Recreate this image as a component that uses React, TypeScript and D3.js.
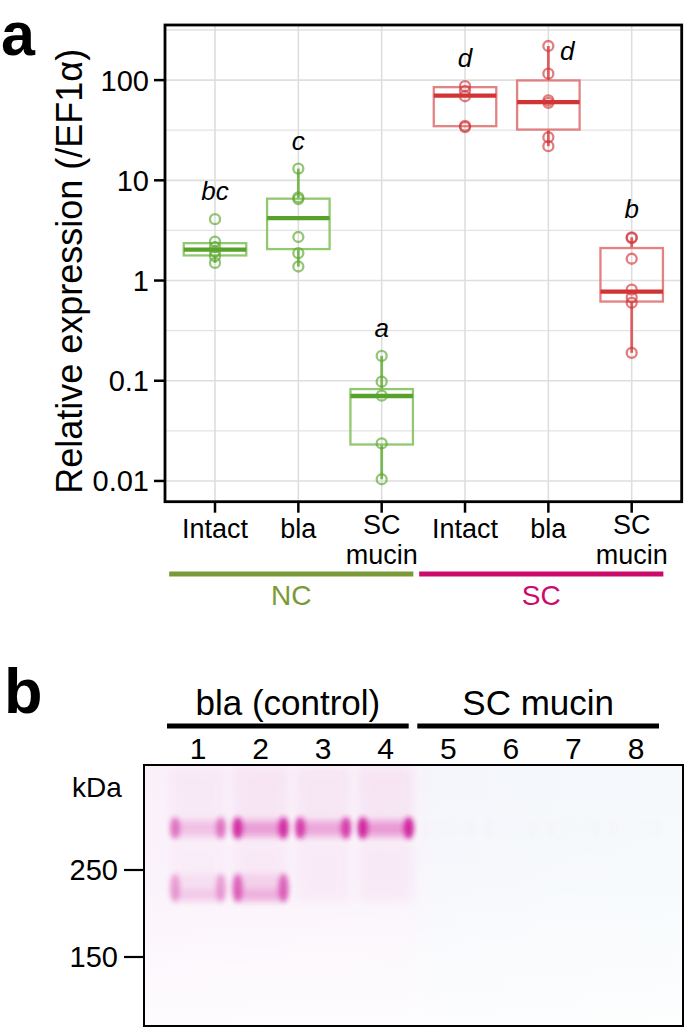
import React from "react";
import * as d3 from "d3";

// ---------- Panel a data ----------
const groupIds = ["NC-Intact", "NC-bla", "NC-SCmucin", "SC-Intact", "SC-bla", "SC-SCmucin"];
const groupLabels = ["Intact", "bla", "SC\nmucin", "Intact", "bla", "SC\nmucin"];
const groupSet = ["NC", "NC", "NC", "SC", "SC", "SC"];
const sigLetters = ["bc", "c", "a", "d", "d", "b"];

const ptsNCIntact = [4.1, 2.45, 2.15, 1.95, 1.75, 1.5];
const ptsNCBla = [13.1, 6.76, 6.5, 2.72, 1.88, 1.38];
const ptsNCMucin = [0.177, 0.098, 0.071, 0.0237, 0.0104];
const ptsSCIntact = [87, 78, 69, 35, 34];
const ptsSCBla = [219, 116, 62.7, 59.4, 26.9, 21.9];
const ptsSCMucin = [2.7, 2.65, 1.65, 0.81, 0.68, 0.6, 0.19];
const groupPoints = [ptsNCIntact, ptsNCBla, ptsNCMucin, ptsSCIntact, ptsSCBla, ptsSCMucin];

const boxQ1 = [1.78, 2.06, 0.0231, 34.7, 32.1, 0.617];
const boxMedian = [2.03, 4.2, 0.0704, 70, 60.3, 0.776];
const boxQ3 = [2.36, 6.56, 0.0826, 85.1, 99.3, 2.11];

const yTickValues = [0.01, 0.1, 1, 10, 100];
const yTickLabels = ["0.01", "0.1", "1", "10", "100"];
const yMinorValues = [10 ** -1.5, 10 ** -0.5, 10 ** 0.5, 10 ** 1.5, 10 ** 2.5];
const yDomain = [10 ** -2.207, 10 ** 2.55];

const setNames = ["NC", "SC"];

// ---------- Panel b data ----------
const lanes = ["1", "2", "3", "4", "5", "6", "7", "8"];
const laneGroupNames = ["bla (control)", "SC mucin"];
const laneGroupMembers = [["1", "2", "3", "4"], ["5", "6", "7", "8"]];
const markerKDa = [250, 150];
const bandKDa = [320, 225];
const bandUpperIntensity = [0.55, 0.95, 0.85, 1.0, 0.01, 0.01, 0.01, 0.01];
const bandLowerIntensity = [0.45, 0.8, 0, 0, 0, 0, 0, 0];

const FONT = "'Liberation Sans', Arial, Helvetica, sans-serif";

const COLORS: Record<string, any> = {
  NC: { pt: "#5aa82e", box: "#86c262", med: "#58a22c", whisk: "#68ae3e", set: "#7a9a38" },
  SC: { pt: "#d2363a", box: "#e07474", med: "#d23436", whisk: "#d9474a", set: "#cc0a6c" },
};

export default function App() {
  // panel a geometry
  const pL = 165, pR = 681.7, pT = 25, pB = 501.7;
  const y = d3.scaleLog().domain(yDomain).range([pB, pT]);
  const x = d3.scalePoint<string>().domain(groupIds).range([pL, pR]).padding(0.6);
  const step = x.step();
  const boxW = step * 0.75;

  const lg = (v: number) => Math.log10(v);

  const boxes = groupIds.map((id, i) => {
    const pts = groupPoints[i];
    const q1 = boxQ1[i], q3 = boxQ3[i];
    const iqr = lg(q3) - lg(q1);
    const hiFence = lg(q3) + 1.5 * iqr;
    const loFence = lg(q1) - 1.5 * iqr;
    const inside = pts.filter((v) => lg(v) <= hiFence && lg(v) >= loFence);
    const wHi = Math.max(q3, d3.max(inside) as number);
    const wLo = Math.min(q1, d3.min(inside) as number);
    return { id, i, pts, q1, q3, med: boxMedian[i], wHi, wLo, c: COLORS[groupSet[i]] };
  });

  // set underline extents
  const setExtent = setNames.map((s) => {
    const ids = groupIds.filter((_, i) => groupSet[i] === s);
    const xs = ids.map((id) => x(id) as number);
    return { s, x0: (d3.min(xs) as number) - 0.55 * step, x1: (d3.max(xs) as number) + 0.38 * step };
  });

  // panel b geometry
  const gL = 144, gR = 683, gT = 765, gB = 1026;
  const lx = d3.scalePoint<string>().domain(lanes).range([198, 636]);
  const ky = d3.scaleLog().domain([150, 250]).range([957, 870]);
  const laneW = 54;

  return (
    <svg
      width={685}
      height={1028}
      viewBox="0 0 685 1028"
      style={{ position: "absolute", left: 0, top: 0, display: "block", background: "#fff" }}
      fontFamily={FONT}
    >
      <defs>
        <filter id="blur3" x="-50%" y="-50%" width="200%" height="200%">
          <feGaussianBlur stdDeviation="3.5" />
        </filter>
        <filter id="blur2" x="-50%" y="-50%" width="200%" height="200%">
          <feGaussianBlur stdDeviation="2.6" />
        </filter>
        <filter id="blur6" x="-50%" y="-50%" width="200%" height="200%">
          <feGaussianBlur stdDeviation="5" />
        </filter>
        <linearGradient id="gelBg" x1="0" x2="1" y1="0" y2="0">
          <stop offset="0" stopColor="#faf0fa" />
          <stop offset="0.48" stopColor="#f9f2fa" />
          <stop offset="0.55" stopColor="#f4f6fb" />
          <stop offset="1" stopColor="#f5f9fc" />
        </linearGradient>
        <linearGradient id="gelFade" x1="0" x2="0" y1="0" y2="1">
          <stop offset="0" stopColor="#ffffff" stopOpacity="0" />
          <stop offset="0.45" stopColor="#ffffff" stopOpacity="0.2" />
          <stop offset="1" stopColor="#ffffff" stopOpacity="0.8" />
        </linearGradient>
      </defs>

      {/* ================= Panel a ================= */}
      <text x={1} y={55} fontSize={61} fontWeight="bold" fill="#000">a</text>

      {/* grid */}
      <g>
        {yMinorValues.map((v, i) =>
          y(v) > pT && y(v) < pB ? (
            <line key={"mn" + i} x1={pL} x2={pR} y1={y(v)} y2={y(v)} stroke="#e3e3e3" strokeWidth={1.3} />
          ) : null
        )}
        {yTickValues.map((v, i) => (
          <line key={"mj" + i} x1={pL} x2={pR} y1={y(v)} y2={y(v)} stroke="#dedede" strokeWidth={1.6} />
        ))}
        {groupIds.map((id) => (
          <line key={"vg" + id} x1={x(id)} x2={x(id)} y1={pT} y2={pB} stroke="#dedede" strokeWidth={1.6} />
        ))}
      </g>

      {/* boxes */}
      {boxes.map((b) => {
        const cx = x(b.id) as number;
        return (
          <g key={"box" + b.id}>
            <line x1={cx} x2={cx} y1={y(b.q3)} y2={y(b.wHi)} stroke={b.c.whisk} strokeWidth={2.8} opacity={0.85} />
            <line x1={cx} x2={cx} y1={y(b.q1)} y2={y(b.wLo)} stroke={b.c.whisk} strokeWidth={2.8} opacity={0.85} />
            <rect
              x={cx - boxW / 2}
              y={y(b.q3)}
              width={boxW}
              height={y(b.q1) - y(b.q3)}
              fill="none"
              stroke={b.c.box}
              strokeWidth={2.3}
              opacity={0.9}
            />
            <line x1={cx - boxW / 2} x2={cx + boxW / 2} y1={y(b.med)} y2={y(b.med)} stroke={b.c.med} strokeWidth={4.3} />
            {b.pts.map((v, k) => (
              <circle key={k} cx={cx} cy={y(v)} r={5} fill="none" stroke={b.c.pt} strokeWidth={2.3} opacity={0.65} />
            ))}
          </g>
        );
      })}

      {/* significance letters */}
      {boxes.map((b) => {
        const cx = x(b.id) as number;
        const top = y(d3.max(b.pts) as number);
        const crowded = top - 20 < pT + 30;
        return (
          <text
            key={"sig" + b.id}
            x={crowded ? cx + 19 : cx}
            y={crowded ? top + 14 : top - 19}
            textAnchor="middle"
            fontSize={26}
            fontStyle="italic"
            fill="#000"
          >
            {sigLetters[b.i]}
          </text>
        );
      })}

      {/* frame */}
      <rect x={pL} y={pT} width={pR - pL} height={pB - pT} fill="none" stroke="#000" strokeWidth={2.8} />

      {/* y axis ticks */}
      {yTickValues.map((v, i) => (
        <g key={"yt" + i}>
          <line x1={pL - 11} x2={pL} y1={y(v)} y2={y(v)} stroke="#000" strokeWidth={2.5} />
          <text x={pL - 16} y={y(v)} dy="0.36em" textAnchor="end" fontSize={29} fill="#000">
            {yTickLabels[i]}
          </text>
        </g>
      ))}
      <text
        transform={`translate(82, ${(pT + pB) / 2 + 8}) rotate(-90)`}
        textAnchor="middle"
        fontSize={36}
        fill="#000"
      >
        Relative expression (/EF1α)
      </text>

      {/* x axis ticks */}
      {groupIds.map((id, i) => {
        const cx = x(id) as number;
        const lines = groupLabels[i].split("\n");
        return (
          <g key={"xt" + id}>
            <line x1={cx} x2={cx} y1={pB} y2={pB + 11} stroke="#000" strokeWidth={2.5} />
            {lines.map((ln, k) => (
              <text
                key={k}
                x={cx}
                y={lines.length === 1 ? pB + 36 : pB + 32 + k * 30}
                textAnchor="middle"
                fontSize={27}
                fill="#000"
              >
                {ln}
              </text>
            ))}
          </g>
        );
      })}

      {/* set underline */}
      {setExtent.map((e) => (
        <g key={"set" + e.s}>
          <line x1={e.x0} x2={e.x1} y1={574} y2={574} stroke={COLORS[e.s].set} strokeWidth={5} />
          <text x={(e.x0 + e.x1) / 2} y={605} textAnchor="middle" fontSize={28} fill={COLORS[e.s].set}>
            {e.s}
          </text>
        </g>
      ))}

      {/* ================= Panel b ================= */}
      <text x={4} y={713} fontSize={63} fontWeight="bold" fill="#000">b</text>

      {laneGroupNames.map((name, gi) => {
        const xs = laneGroupMembers[gi].map((l) => lx(l) as number);
        const x0 = (d3.min(xs) as number) - 31;
        const x1 = (d3.max(xs) as number) + 23;
        return (
          <g key={"lg" + gi}>
            <text x={(x0 + x1) / 2} y={715} textAnchor="middle" fontSize={35} fill="#000">
              {name}
            </text>
            <line x1={x0} x2={x1} y1={726} y2={726} stroke="#000" strokeWidth={5} />
          </g>
        );
      })}
      {lanes.map((l) => (
        <text key={"ln" + l} x={lx(l)} y={759} textAnchor="middle" fontSize={30} fill="#000">
          {l}
        </text>
      ))}

      {/* gel */}
      <rect x={gL} y={gT} width={gR - gL} height={gB - gT} fill="url(#gelBg)" />
      <rect x={gL} y={gT} width={gR - gL} height={gB - gT} fill="url(#gelFade)" />
      <g>
        {lanes.map((l, i) => {
          const cx = lx(l) as number;
          const a1 = bandUpperIntensity[i];
          const a2 = bandLowerIntensity[i];
          const y1 = ky(bandKDa[0]);
          const y2 = ky(bandKDa[1]);
          return (
            <g key={"lane" + l}>
              {/* smear from well */}
              <rect
                x={cx - laneW / 2}
                y={gT + 2}
                width={laneW}
                height={y1 - gT - 4}
                fill="#d63aa8"
                opacity={0.07 * a1}
                filter="url(#blur6)"
              />
              <rect
                x={cx - laneW / 2}
                y={y1 + 14}
                width={laneW}
                height={60}
                fill="#d63aa8"
                opacity={0.05 * a1}
                filter="url(#blur6)"
              />
              {/* upper band */}
              <rect x={cx - laneW / 2 + 2} y={y1 - 7} width={laneW - 4} height={16} fill="#d636a8" opacity={0.45 * a1} filter="url(#blur3)" />
              <ellipse cx={cx - laneW / 2 + 4} cy={y1} rx={5} ry={11} fill="#cc1898" opacity={0.9 * a1} filter="url(#blur2)" />
              <ellipse cx={cx + laneW / 2 - 4} cy={y1} rx={5} ry={11} fill="#cc1898" opacity={0.9 * a1} filter="url(#blur2)" />
              {/* lower band */}
              {a2 > 0 && (
                <g>
                  <rect x={cx - laneW / 2 + 2} y={y2 - 14} width={laneW - 4} height={28} fill="#d94db0" opacity={0.2 * a2} filter="url(#blur3)" />
                  <rect x={cx - laneW / 2 + 2} y={y2 + 2} width={laneW - 4} height={10} fill="#d636a8" opacity={0.3 * a2} filter="url(#blur3)" />
                  <ellipse cx={cx - laneW / 2 + 4} cy={y2} rx={5} ry={14} fill="#cc1898" opacity={0.75 * a2} filter="url(#blur2)" />
                  <ellipse cx={cx + laneW / 2 - 4} cy={y2} rx={5} ry={14} fill="#cc1898" opacity={0.75 * a2} filter="url(#blur2)" />
                </g>
              )}
            </g>
          );
        })}
      </g>
      <rect x={gL} y={gT} width={gR - gL} height={gB - gT} fill="none" stroke="#000" strokeWidth={2} />

      {/* kDa markers */}
      <text x={72} y={797} fontSize={28} fill="#000">kDa</text>
      {markerKDa.map((k) => (
        <g key={"mk" + k}>
          <line x1={124} x2={gL} y1={ky(k)} y2={ky(k)} stroke="#000" strokeWidth={2.2} />
          <text x={118} y={ky(k)} dy="0.36em" textAnchor="end" fontSize={29} fill="#000">
            {k}
          </text>
        </g>
      ))}
    </svg>
  );
}
